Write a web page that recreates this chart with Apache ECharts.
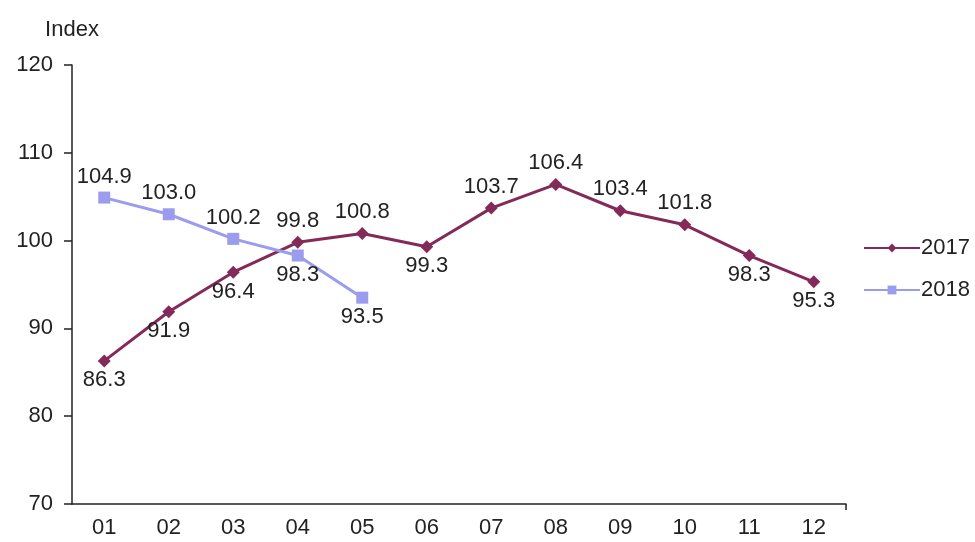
<!DOCTYPE html>
<html><head><meta charset="utf-8">
<script src="https://cdn.jsdelivr.net/npm/echarts@6/dist/echarts.min.js"></script>
<style>html,body{margin:0;padding:0;background:#fff}#c{width:975px;height:542px}</style>
</head><body><div id="c"></div>
<script>
var months = ['01','02','03','04','05','06','07','08','09','10','11','12'];
var s2017 = [86.3, 91.9, 96.4, 99.8, 100.8, 99.3, 103.7, 106.4, 103.4, 101.8, 98.3, 95.3];
var s2018 = [104.9, 103.0, 100.2, 98.3, 93.5];
var pos2017 = ['bottom','bottom','bottom','top','top','bottom','top','top','top','top','bottom','bottom'];
var pos2018 = ['top','top','top','bottom','bottom'];
var font = 'Liberation Sans, Arial, sans-serif';
var fs = 22;
function mk(vals, pos){ return vals.map(function(v,i){ return {value:v, label:{position:pos[i], distance: pos[i]==='top'?4:2}}; }); }
var boundaryCats = months.concat(['']);
var chart = echarts.init(document.getElementById('c'));
chart.setOption({
  animation:false,
  grid:{left:72,right:129,top:65,bottom:38},
  legend:{orient:'vertical',left:858,top:232,itemGap:20,itemWidth:56,itemHeight:11,
    textStyle:{fontFamily:font,fontSize:fs,color:'#222',padding:[0,0,0,-4]},
    data:['2017','2018']},
  xAxis:[{type:'category',data:months,boundaryGap:true,
    axisLine:{lineStyle:{color:'#222',width:1.5}},
    axisTick:{alignWithLabel:true,length:6,lineStyle:{color:'#222',width:1.5}},
    axisLabel:{fontFamily:font,fontSize:fs,color:'#222',margin:13}},
   {type:'category',data:boundaryCats,boundaryGap:false,position:'bottom',
    axisLine:{show:false},axisLabel:{show:false},
    axisTick:{show:true,length:6,interval:function(i){return i===12;},lineStyle:{color:'#222',width:1.5}}}],
  yAxis:{type:'value',min:70,max:120,interval:10,name:'Index',
    nameLocation:'end',nameGap:24,nameTextStyle:{fontFamily:font,fontSize:fs,color:'#222',align:'center'},
    splitLine:{show:false},
    axisLine:{show:true,lineStyle:{color:'#222',width:1.5}},
    axisTick:{show:true,length:8,lineStyle:{color:'#222',width:1.5}},
    axisLabel:{fontFamily:font,fontSize:fs,color:'#222',margin:19}},
  series:[
    {name:'2017',type:'line',data:mk(s2017,pos2017),symbol:'diamond',symbolSize:13,
      lineStyle:{color:'#842A58',width:3},itemStyle:{color:'#842A58'},
      label:{show:true,fontFamily:font,fontSize:fs,color:'#222',formatter:function(p){return p.value.toFixed(1);}}},
    {name:'2018',type:'line',data:mk(s2018,pos2018),symbol:'rect',symbolSize:12,
      lineStyle:{color:'#9C9CEF',width:3},itemStyle:{color:'#9C9CEF'},
      label:{show:true,fontFamily:font,fontSize:fs,color:'#222',formatter:function(p){return p.value.toFixed(1);}}}
  ]
});
</script></body></html>
